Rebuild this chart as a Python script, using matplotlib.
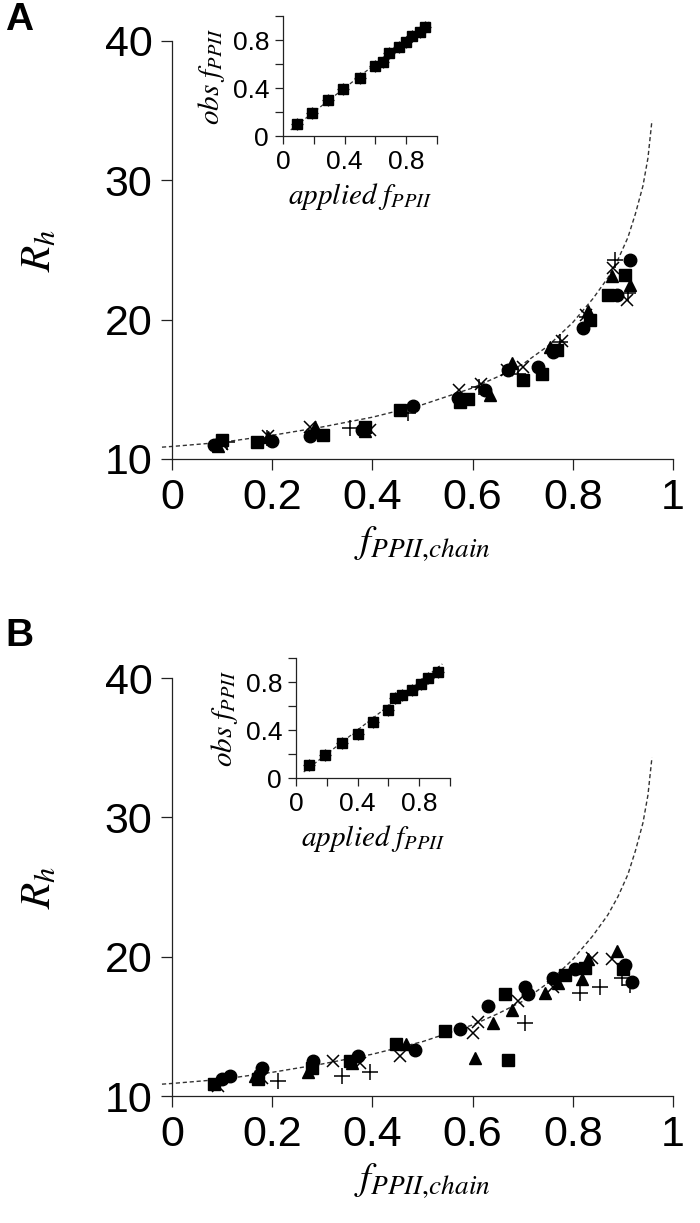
import matplotlib
matplotlib.use("Agg")
import matplotlib.pyplot as plt

plt.rcParams['font.family'] = ['Liberation Sans', 'DejaVu Sans']
plt.rcParams['mathtext.fontset'] = 'stix'

# ---- fitted curve ----
curve_f = [-0.02, 0.0, 0.1, 0.2, 0.3, 0.4, 0.5, 0.6, 0.65, 0.7, 0.75, 0.8, 0.84,
           0.87, 0.89, 0.91, 0.925, 0.94, 0.95, 0.958]
curve_R = [10.85, 10.9, 11.2, 11.7, 12.3, 13.0, 13.9, 15.1, 15.9, 16.8, 18.1, 19.8,
           21.5, 23.0, 24.3, 25.9, 27.6, 29.6, 31.6, 34.3]

# ---- panel A data ----
A_circ_f = [0.083, 0.199, 0.275, 0.38, 0.482, 0.57, 0.625, 0.671, 0.731, 0.761, 0.821, 0.888, 0.914]
A_circ_R = [11.0, 11.3, 11.65, 12.1, 13.8, 14.4, 14.95, 16.4, 16.6, 17.7, 19.4, 21.8, 24.3]
A_sq_f = [0.099, 0.169, 0.302, 0.385, 0.455, 0.575, 0.591, 0.70, 0.738, 0.768, 0.834, 0.871, 0.904]
A_sq_R = [11.36, 11.24, 11.7, 12.3, 13.5, 14.1, 14.3, 15.7, 16.1, 17.8, 20.0, 21.8, 23.2]
A_tri_f = [0.092, 0.192, 0.285, 0.385, 0.635, 0.678, 0.754, 0.831, 0.878, 0.914]
A_tri_R = [10.9, 11.6, 12.3, 12.0, 14.6, 16.9, 18.05, 20.6, 23.1, 22.5]
A_plus_f = [0.109, 0.19, 0.355, 0.472, 0.613, 0.691, 0.775, 0.828, 0.884, 0.911]
A_plus_R = [11.2, 11.5, 12.2, 13.3, 15.2, 16.1, 18.4, 20.2, 24.3, 21.9]
A_x_f = [0.10, 0.192, 0.275, 0.395, 0.572, 0.617, 0.668, 0.70, 0.778, 0.826, 0.881, 0.908]
A_x_R = [11.1, 11.65, 12.3, 12.1, 14.95, 15.4, 16.4, 16.6, 18.5, 20.3, 23.7, 21.4]

# ---- panel B data ----
B_circ_f = [0.10, 0.116, 0.179, 0.282, 0.372, 0.485, 0.575, 0.631, 0.705, 0.711, 0.761, 0.804, 0.904, 0.918]
B_circ_R = [11.2, 11.4, 12.0, 12.5, 12.9, 13.3, 14.8, 16.45, 17.8, 17.3, 18.5, 19.1, 19.4, 18.2]
B_sq_f = [0.083, 0.172, 0.279, 0.355, 0.448, 0.545, 0.665, 0.671, 0.784, 0.824, 0.901]
B_sq_R = [10.84, 11.2, 12.0, 12.5, 13.7, 14.66, 17.3, 12.6, 18.7, 19.2, 19.1]
B_tri_f = [0.166, 0.272, 0.36, 0.468, 0.605, 0.641, 0.678, 0.745, 0.771, 0.818, 0.831, 0.888]
B_tri_R = [11.4, 11.7, 12.4, 13.7, 12.75, 15.26, 16.2, 17.4, 18.1, 18.4, 19.8, 20.4]
B_plus_f = [0.212, 0.339, 0.395, 0.705, 0.814, 0.854, 0.898, 0.915]
B_plus_R = [11.1, 11.4, 11.7, 15.26, 17.4, 17.8, 18.5, 18.0]
B_x_f = [0.092, 0.179, 0.322, 0.375, 0.455, 0.601, 0.611, 0.691, 0.761, 0.838, 0.878]
B_x_R = [10.7, 11.3, 12.5, 12.4, 12.9, 14.5, 15.3, 16.8, 17.8, 19.9, 19.8]

# ---- insets ----
A_ins_app = [0.09, 0.19, 0.29, 0.39, 0.50, 0.60, 0.65, 0.69, 0.75, 0.80, 0.84, 0.89, 0.92]
A_ins_obs = [0.10, 0.19, 0.30, 0.39, 0.48, 0.58, 0.62, 0.69, 0.74, 0.78, 0.83, 0.87, 0.91]
B_ins_app = [0.085, 0.19, 0.30, 0.40, 0.50, 0.60, 0.64, 0.69, 0.75, 0.81, 0.86, 0.92]
B_ins_obs = [0.11, 0.19, 0.29, 0.37, 0.47, 0.57, 0.67, 0.69, 0.73, 0.78, 0.83, 0.88]
diag = [0.05, 0.95]

main_xticks = [0, 0.2, 0.4, 0.6, 0.8, 1.0]
main_xlabels = ['0', '0.2', '0.4', '0.6', '0.8', '1']
main_yticks = [10, 20, 30, 40]
ins_ticks = [0, 0.2, 0.4, 0.6, 0.8, 1.0]
ins_labels = ['0', '', '0.4', '', '0.8', '']

W, H = 700, 1223
fig = plt.figure(figsize=(7.0, 12.23), dpi=100)


def style_axes(ax, lw=0.9, ticklen=7, labsize=20, pad=4):
    for s in ['top', 'right']:
        ax.spines[s].set_visible(False)
    for s in ['left', 'bottom']:
        ax.spines[s].set_linewidth(lw)
        ax.spines[s].set_color('#222222')
    ax.tick_params(direction='out', length=ticklen, width=lw, labelsize=labsize,
                   colors='#222222', labelcolor='black', pad=pad)


def main_panel(bottom_px, series):
    ax = fig.add_axes([172 / W, 1 - bottom_px / H, 501 / W, 418 / H])
    ax.set_xlim(0, 1)
    ax.set_ylim(10, 40)
    ax.plot(curve_f, curve_R, ls=(0, (3, 2)), color='#333333', lw=1.0, clip_on=False, zorder=1)
    (cf, cR), (sf, sR), (tf, tR), (pf, pR), (xf, xR) = series
    ax.plot(sf, sR, ls='none', marker='s', ms=8.5, color='black', zorder=3)
    ax.plot(cf, cR, ls='none', marker='o', ms=9, color='black', zorder=3)
    ax.plot(tf, tR, ls='none', marker='^', ms=9, color='black', zorder=3)
    ax.plot(pf, pR, ls='none', marker='+', ms=11, mew=1.1, color='black', zorder=4)
    ax.plot(xf, xR, ls='none', marker='x', ms=9, mew=1.1, color='black', zorder=4)
    style_axes(ax, ticklen=8, labsize=31, pad=6)
    ax.set_xticks(main_xticks)
    ax.set_xticklabels(main_xlabels)
    ax.set_yticks(main_yticks)
    ax.set_xlabel(r'$f_{PPII{,}chain}$', fontsize=28, labelpad=4)
    ax.set_ylabel(r'$R_h$', fontsize=31)
    ax.yaxis.set_label_coords(-0.225, 0.5)
    return ax


def inset(left_px, bottom_px, app, obs):
    ax = fig.add_axes([left_px / W, 1 - bottom_px / H, 154 / W, 120 / H])
    ax.set_xlim(0, 1)
    ax.set_ylim(0, 1)
    ax.patch.set_alpha(0)
    ax.plot(diag, diag, ls=(0, (3, 2)), color='#333333', lw=0.9, zorder=1)
    ax.plot(app, obs, ls='none', marker='s', ms=7, color='black', zorder=3)
    ax.plot(app, obs, ls='none', marker='o', ms=6.5, color='black', zorder=3)
    ax.plot(app, obs, ls='none', marker='+', ms=8, mew=0.9, color='black', zorder=2)
    style_axes(ax, ticklen=6, labsize=19, pad=4)
    ax.set_xticks(ins_ticks)
    ax.set_xticklabels(ins_labels)
    ax.set_yticks(ins_ticks)
    ax.set_yticklabels(ins_labels)
    ax.set_xlabel(r'$applied\ f_{PPII}$', fontsize=21, labelpad=5)
    ax.set_ylabel(r'$obs\ f_{PPII}$', fontsize=21, labelpad=4)
    return ax


main_panel(459, [(A_circ_f, A_circ_R), (A_sq_f, A_sq_R), (A_tri_f, A_tri_R),
                 (A_plus_f, A_plus_R), (A_x_f, A_x_R)])
inset(283, 136, A_ins_app, A_ins_obs)

main_panel(1096, [(B_circ_f, B_circ_R), (B_sq_f, B_sq_R), (B_tri_f, B_tri_R),
                  (B_plus_f, B_plus_R), (B_x_f, B_x_R)])
inset(296, 778, B_ins_app, B_ins_obs)

fig.text(5 / W, 1 - 2 / H, 'A', fontsize=28, fontweight='bold', va='top', ha='left')
fig.text(5 / W, 1 - 618 / H, 'B', fontsize=28, fontweight='bold', va='top', ha='left')

fig.savefig('out.png', dpi=100)
